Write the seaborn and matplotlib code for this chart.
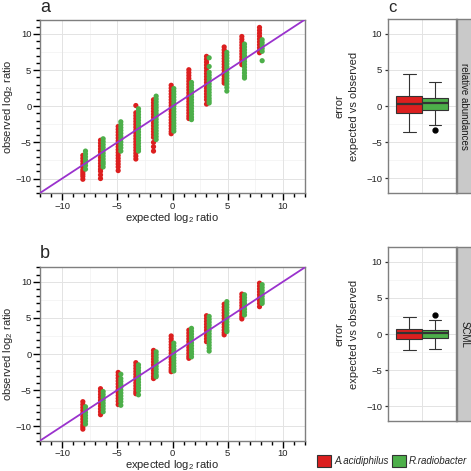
import numpy as np
import pandas as pd
import matplotlib
matplotlib.use('Agg')
import matplotlib.pyplot as plt
import seaborn as sns
from matplotlib.ticker import MultipleLocator
from matplotlib.patches import Patch

sns.set_style('white')
plt.rcParams['font.family'] = ['Liberation Sans', 'DejaVu Sans']
plt.rcParams['mathtext.fontset'] = 'custom'
plt.rcParams['mathtext.rm'] = 'Liberation Sans'
plt.rcParams['xtick.bottom'] = True
plt.rcParams['ytick.left'] = True
plt.rcParams['xtick.direction'] = 'out'
plt.rcParams['ytick.direction'] = 'out'

species = ['A.acidiphilus', 'R.radiobacter']
colors = {'A.acidiphilus': '#DC1F1F', 'R.radiobacter': '#4DAF4A'}
expected = [-8, -6.4, -4.8, -3.2, -1.6, 0, 1.6, 3.2, 4.8, 6.4, 8]

# observed log2 ratios per expected ratio (relative abundances)
ra_acid = [
    [-6.8, -7.2, -7.6, -8.0, -8.4, -8.8, -9.1, -9.4, -9.7, -10.1],
    [-4.7, -5.1, -5.5, -5.9, -6.3, -6.7, -7.1, -7.5, -7.9, -8.3, -8.7, -9.0, -9.5, -10.0],
    [-2.8, -3.2, -3.6, -4.0, -4.4, -4.8, -5.2, -5.6, -6.0, -6.4, -6.8, -7.2, -7.6, -8.0, -8.4, -8.9],
    [0.1, -0.9, -1.3, -1.7, -2.1, -2.5, -2.9, -3.3, -3.7, -4.1, -4.5, -4.9, -5.3, -5.7, -6.1, -6.5, -6.9, -7.3],
    [0.9, 0.5, 0.1, -0.3, -0.7, -1.1, -1.5, -1.9, -2.3, -2.7, -3.1, -3.5, -3.9, -4.3, -5.0, -5.6, -6.2],
    [2.9, 2.5, 2.1, 1.7, 1.3, 0.9, 0.5, 0.1, -0.3, -0.7, -1.1, -1.5, -1.9, -2.3, -2.7, -3.1, -3.5, -3.8],
    [5.05, 4.65, 4.25, 3.85, 3.45, 3.05, 2.65, 2.25, 1.85, 1.45, 1.05, 0.65, 0.25, -0.15, -0.55, -0.95, -1.35, -1.7],
    [6.9, 6.5, 6.1, 5.7, 5.3, 4.9, 4.5, 4.1, 3.7, 3.3, 2.9, 2.5, 2.1, 1.7, 1.3, 0.9, 0.3],
    [8.2, 7.8, 7.4, 7.0, 6.6, 6.2, 5.8, 5.4, 5.0, 4.6, 4.2, 3.8, 3.5, 3.2],
    [9.65, 9.25, 8.85, 8.45, 8.05, 7.65, 7.25, 6.85, 6.45, 6.1, 5.75],
    [10.9, 10.5, 10.1, 9.7, 9.3, 8.9, 8.5, 8.1, 7.7, 7.4],
]
ra_radio = [
    [-6.2, -6.6, -7.0, -7.4, -7.8, -8.2, -8.7],
    [-4.5, -4.9, -5.3, -5.7, -6.1, -6.5, -6.9, -7.3, -7.7, -8.0, -8.4],
    [-2.15, -2.55, -2.95, -3.35, -3.75, -4.15, -4.55, -4.95, -5.35, -5.75, -6.2],
    [-0.35, -0.75, -1.15, -1.55, -1.95, -2.35, -2.75, -3.15, -3.55, -3.95, -4.35, -4.75, -5.15, -5.55, -5.9, -6.2],
    [1.4, 1.0, 0.6, 0.2, -0.2, -0.6, -1.0, -1.4, -1.8, -2.2, -2.6, -3.0, -3.4, -3.8, -4.2, -4.6],
    [2.45, 2.05, 1.65, 1.25, 0.85, 0.45, 0.05, -0.35, -0.75, -1.15, -1.55, -1.95, -2.35, -2.75, -3.1, -3.45],
    [3.3, 2.9, 2.5, 2.1, 1.7, 1.3, 0.9, 0.5, 0.1, -0.3, -0.7, -1.1, -1.5, -1.85],
    [6.7, 5.5, 4.7, 4.3, 3.9, 3.5, 3.1, 2.7, 2.3, 1.9, 1.5, 1.1, 0.75, 0.45],
    [7.45, 7.05, 6.65, 6.25, 5.85, 5.45, 5.05, 4.65, 4.25, 3.85, 3.45, 3.05, 2.6, 2.1],
    [8.6, 8.2, 7.8, 7.4, 7.0, 6.6, 6.2, 5.8, 5.4, 5.0, 4.6, 4.2, 3.9],
    [9.2, 8.8, 8.4, 8.0, 7.6, 6.3],
]
# panel b, SCML
scml_acid = [
    [-6.6, -7.0, -7.4, -7.8, -8.2, -8.6, -9.0, -9.4, -9.8, -10.1, -10.4],
    [-4.8, -5.2, -5.6, -6.0, -6.4, -6.8, -7.2, -7.6, -8.0, -8.4],
    [-2.55, -2.95, -3.35, -3.75, -4.15, -4.55, -4.95, -5.35, -5.75, -6.15, -6.55, -7.0],
    [-1.2, -1.6, -2.0, -2.4, -2.8, -3.2, -3.6, -4.0, -4.4, -4.8, -5.2, -5.5],
    [0.5, 0.1, -0.3, -0.7, -1.1, -1.5, -1.9, -2.3, -2.7, -3.1, -3.4],
    [2.5, 2.1, 1.7, 1.3, 0.9, 0.5, 0.1, -0.3, -0.7, -1.1, -1.5, -1.9, -2.2, -2.45],
    [3.3, 2.9, 2.5, 2.1, 1.7, 1.3, 0.9, 0.5, 0.1, -0.3, -0.6],
    [5.3, 4.9, 4.5, 4.1, 3.7, 3.3, 2.9, 2.5, 2.1, 1.7],
    [6.9, 6.5, 6.1, 5.7, 5.3, 4.9, 4.5, 4.1, 3.7, 3.3, 2.95, 2.65],
    [8.3, 7.9, 7.5, 7.1, 6.7, 6.3, 5.9, 5.5, 5.15, 4.85],
    [9.8, 9.4, 9.0, 8.6, 8.2, 7.8, 7.4, 7.0, 6.55],
]
scml_radio = [
    [-7.3, -7.7, -8.1, -8.5, -8.9, -9.3, -9.7],
    [-5.2, -5.6, -6.0, -6.4, -6.8, -7.2, -7.6, -8.0],
    [-2.8, -3.4, -3.8, -4.2, -4.6, -5.0, -5.4, -5.8, -6.2, -6.6, -7.1],
    [-1.5, -1.9, -2.3, -2.7, -3.1, -3.5, -3.9, -4.3, -4.7, -5.1, -5.65],
    [0.3, -0.1, -0.5, -0.9, -1.3, -1.7, -2.1, -2.5, -2.9, -3.15],
    [1.5, 1.1, 0.7, 0.3, -0.1, -0.5, -0.9, -1.3, -1.7, -2.05, -2.35],
    [3.55, 3.15, 2.75, 2.35, 1.95, 1.55, 1.15, 0.75, 0.35, 0.0, -0.4],
    [5.2, 4.8, 4.4, 4.0, 3.6, 3.2, 2.8, 2.4, 2.0, 1.6, 1.2, 0.8, 0.4],
    [7.25, 6.85, 6.45, 6.05, 5.65, 5.25, 4.85, 4.45, 4.05, 3.65, 3.3, 3.1],
    [8.2, 7.8, 7.4, 7.0, 6.6, 6.2, 5.8, 5.4],
    [9.6, 9.2, 8.8, 8.4, 8.0, 7.6, 7.3, 7.0],
]

# error (expected vs observed) samples for panel c
err_ra_acid = [-3.57, -2.0, -0.93, -0.3, 0.28, 0.8, 1.39, 3.0, 4.44]
err_ra_radio = [-3.33, -2.64, -0.56, -0.1, 0.37, 0.7, 1.07, 2.2, 3.38]
err_scml_acid = [-2.19, -1.4, -0.7, -0.3, 0.08, 0.4, 0.7, 1.5, 2.37]
err_scml_radio = [-2.09, -1.3, -0.6, -0.2, 0.14, 0.4, 0.62, 2.0, 2.65]

dodge = {'A.acidiphilus': -0.12, 'R.radiobacter': 0.12}


def scatter_df(acid, radio):
    rows = []
    for sp, cols in zip(species, [acid, radio]):
        for e, obs in zip(expected, cols):
            for o in obs:
                rows.append((sp, e, e + dodge[sp], o))
    return pd.DataFrame(rows, columns=['species', 'expected', 'xpos', 'observed'])


def error_df(acid, radio):
    rows = [(sp, v) for sp, vals in zip(species, [acid, radio]) for v in vals]
    d = pd.DataFrame(rows, columns=['species', 'error'])
    d['grp'] = 'all'
    return d


W = 471.0
fig = plt.figure(figsize=(4.71, 4.71), dpi=100)


def px_axes(x0, y0, x1, y1):
    return fig.add_axes([x0 / W, 1 - y1 / W, (x1 - x0) / W, (y1 - y0) / W])


border = '#7F7F7F'
gridc = '#E3E3E3'
minorc = '#F2F2F2'


def style_frame(ax):
    for s in ax.spines.values():
        s.set_color(border)
        s.set_linewidth(1.0)
    ax.set_facecolor('white')


def draw_scatter(ax, df):
    style_frame(ax)
    for v in [-12.5, -7.5, -2.5, 2.5, 7.5, 12.5]:
        ax.axvline(v, color=minorc, lw=0.5, zorder=0)
        ax.axhline(v, color=minorc, lw=0.5, zorder=0)
    sns.scatterplot(data=df, x='xpos', y='observed', hue='species', palette=colors,
                    s=14, linewidth=0, alpha=1, legend=False, ax=ax, zorder=2)
    ax.axline((0, 0), slope=1, color='#9A32CD', lw=1.3, zorder=3)
    ax.set_xlim(-12, 12)
    ax.set_ylim(-12, 12)
    ax.xaxis.set_major_locator(MultipleLocator(5))
    ax.yaxis.set_major_locator(MultipleLocator(5))
    ax.xaxis.set_minor_locator(MultipleLocator(1))
    ax.yaxis.set_minor_locator(MultipleLocator(1))
    ax.grid(True, which='major', color=gridc, lw=0.7, zorder=0)
    ax.set_axisbelow(True)
    ax.tick_params(which='major', direction='out', length=5, width=1.0, color='black',
                   labelsize=6.8, pad=1.2, bottom=True, left=True, labelcolor='#222222')
    ax.tick_params(which='minor', direction='out', length=3.2, width=1.0, color='black',
                   bottom=True, left=True)
    ax.set_xlabel(r'expected log$_\mathregular{2}$ ratio', fontsize=8, labelpad=0)
    ax.set_ylabel(r'observed log$_\mathregular{2}$ ratio', fontsize=8, labelpad=0)


def draw_box(ax, df, strip_text, y0, y1):
    style_frame(ax)
    for v in [-12.5, -7.5, -2.5, 2.5, 7.5, 12.5]:
        ax.axhline(v, color=minorc, lw=0.5, zorder=0)
    sns.boxplot(data=df, x='grp', y='error', hue='species', palette=colors,
                width=0.9, gap=0, linecolor='#333333', linewidth=0.8,
                saturation=1, legend=False, ax=ax,
                medianprops=dict(color='#333333', linewidth=1.6),
                flierprops=dict(marker='o', markerfacecolor='black',
                                markeredgecolor='black', markersize=3.5))
    ax.set_xlim(-0.6, 0.6)
    ax.set_ylim(-12, 12)
    ax.yaxis.set_major_locator(MultipleLocator(5))
    ax.grid(True, which='major', color=gridc, lw=0.7, zorder=0)
    ax.set_axisbelow(True)
    ax.set_xticks([0])
    ax.set_xticklabels([])
    ax.tick_params(axis='x', length=0)
    ax.tick_params(axis='y', direction='out', length=2.5, width=0.9, color='#333333',
                   labelsize=6.8, pad=1.5, left=True, labelcolor='#222222')
    ax.set_xlabel('')
    ax.set_ylabel('error\nexpected vs observed', fontsize=8, labelpad=5, linespacing=1.6)
    strip = px_axes(456.5, y0, 474, y1)
    strip.set_facecolor('#C9C9C9')
    strip.set_xticks([])
    strip.set_yticks([])
    for s in strip.spines.values():
        s.set_color(border)
        s.set_linewidth(1.0)
    strip.text(0.45, 0.5, strip_text, rotation=270, ha='center', va='center',
               fontsize=7, color='#1A1A1A', transform=strip.transAxes)


ax_a = px_axes(40, 19.5, 305, 193)
draw_scatter(ax_a, scatter_df(ra_acid, ra_radio))
ax_b = px_axes(40, 267.3, 305, 440.7)
draw_scatter(ax_b, scatter_df(scml_acid, scml_radio))

ax_c1 = px_axes(387.7, 19.3, 456.5, 192.7)
draw_box(ax_c1, error_df(err_ra_acid, err_ra_radio), 'relative abundances', 19.3, 192.7)
ax_c2 = px_axes(387.7, 247.3, 456.5, 420.7)
draw_box(ax_c2, error_df(err_scml_acid, err_scml_radio), 'SCML', 247.3, 420.7)

fig.text(40 / W, 1 - 12.5 / W, 'a', fontsize=13, ha='left', va='baseline')
fig.text(40 / W, 1 - 258 / W, 'b', fontsize=13, ha='left', va='baseline')
fig.text(388 / W, 1 - 12 / W, 'c', fontsize=12, ha='left', va='baseline')

handles = [Patch(facecolor=colors[s], edgecolor='#333333', linewidth=0.8) for s in species]
leg = fig.legend(handles, species, loc='center', bbox_to_anchor=(392 / W, 10 / W),
                 ncol=2, frameon=False, handlelength=1.5, handleheight=1.5,
                 handletextpad=0.3, columnspacing=0.3, prop={'size': 7, 'style': 'italic'})

fig.savefig('out.png', dpi=100)
